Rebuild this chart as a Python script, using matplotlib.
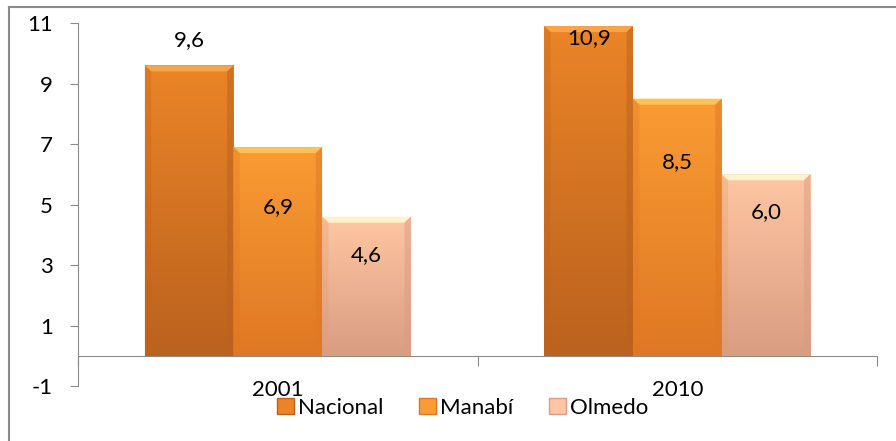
import matplotlib
matplotlib.use("Agg")
import matplotlib.pyplot as plt
import numpy as np
from matplotlib.colors import LinearSegmentedColormap
from matplotlib.patches import Polygon, Patch
from matplotlib.lines import Line2D

# ── data ─────────────────────────────────────────────────────────────────────
years = ["2001", "2010"]
series = ["Nacional", "Manabí", "Olmedo"]
nacional = [9.6, 10.9]
manabi = [6.9, 8.5]
olmedo = [4.6, 6.0]
values = [nacional, manabi, olmedo]

# ── style ────────────────────────────────────────────────────────────────────
plt.rcParams["font.family"] = ["Lato", "DejaVu Sans"]
FS = 16
GRAY = "#8a8a8a"
# (top colour, bottom colour, bevel colour)
COLORS = [
    ("#EA8427", "#BB621E", "#F6A54A"),
    ("#FA9B33", "#DE7824", "#FDC25A"),
    ("#FEC6A2", "#D99D82", "#FFF2CC"),
]
# label offsets (data units) relative to bar top, per series / per year
LABEL_DY = [[0.85, -0.4], [-2.0, -2.1], [-1.26, -1.24]]
BAR_W = 0.222

fig = plt.figure(figsize=(8.96, 4.41), dpi=100)
fig.patch.set_facecolor("white")
ax = fig.add_axes([0.0871, 0.1247, 0.8917, 0.8231])
ax.set_xlim(-0.5, 1.5)
ax.set_ylim(-1, 11)

x = np.arange(len(years))
for i, (vals, (ctop, cbot, cbev)) in enumerate(zip(values, COLORS)):
    bars = ax.bar(x + (i - 1) * BAR_W, vals, BAR_W, color=cbot, zorder=2,
                  linewidth=0)
    cmap = LinearSegmentedColormap.from_list(f"g{i}", [cbot, ctop])
    for b in bars:
        x0, w, h = b.get_x(), b.get_width(), b.get_height()
        grad = np.linspace(1, 0, 100).reshape(-1, 1)
        im = ax.imshow(grad, cmap=cmap, extent=(x0, x0 + w, 0, h),
                       aspect="auto", zorder=3, vmin=0, vmax=1)
        im.set_clip_path(b)
        # bevel on top
        dy, dx = 0.2, 0.016
        ax.add_patch(Polygon([(x0, h), (x0 + w, h), (x0 + w - dx, h - dy),
                              (x0 + dx, h - dy)], closed=True,
                             facecolor=cbev, edgecolor="none", zorder=4))
        # slightly darker sides and bottom
        ax.add_patch(Polygon([(x0, h), (x0 + dx, h - dy), (x0 + dx, dy),
                              (x0, 0)], closed=True, facecolor=cbot,
                             alpha=0.3, edgecolor="none", zorder=4))
        ax.add_patch(Polygon([(x0 + w, h), (x0 + w - dx, h - dy),
                              (x0 + w - dx, dy), (x0 + w, 0)], closed=True,
                             facecolor=cbot, alpha=0.5, edgecolor="none",
                             zorder=4))
        ax.add_patch(Polygon([(x0, 0), (x0 + dx, dy), (x0 + w - dx, dy),
                              (x0 + w, 0)], closed=True, facecolor=cbot,
                             alpha=0.4, edgecolor="none", zorder=4))
    for j, b in enumerate(bars):
        val = vals[j]
        ax.text(b.get_x() + b.get_width() / 2, val + LABEL_DY[i][j],
                f"{val:.1f}".replace(".", ","), ha="center", va="center",
                fontsize=FS, color="black", zorder=6)

# ── axes ─────────────────────────────────────────────────────────────────────
for s in ["top", "right"]:
    ax.spines[s].set_visible(False)
ax.spines["bottom"].set_position(("data", 0))
ax.spines["bottom"].set_color(GRAY)
ax.spines["left"].set_color(GRAY)
ax.set_yticks(np.arange(-1, 12, 2))
ax.set_yticklabels([str(v) for v in range(-1, 12, 2)], fontsize=FS)
ax.tick_params(axis="y", length=6, color=GRAY, pad=12)
ax.set_xticks([-0.5, 0.5, 1.5])
ax.set_xticklabels([])
ax.tick_params(axis="x", length=7, color=GRAY, direction="out")
for i, yr in enumerate(years):
    ax.text(i, -1.12, yr, ha="center", va="center", fontsize=FS)

# ── legend ───────────────────────────────────────────────────────────────────
handles = [Patch(facecolor=c[0], edgecolor=c[1]) for c in COLORS]
fig.legend(handles, series, loc="center", bbox_to_anchor=(463 / 896, 0.075),
           ncol=3, frameon=False, fontsize=FS, handlelength=0.75,
           handleheight=0.75, handletextpad=0.2, columnspacing=1.6)

# ── outer frame ──────────────────────────────────────────────────────────────
fig.add_artist(Line2D([9 / 896, 9 / 896], [0, 1 - 7 / 441],
                      transform=fig.transFigure, color=GRAY, lw=1.5))
fig.add_artist(Line2D([9 / 896, 1], [1 - 7 / 441, 1 - 7 / 441],
                      transform=fig.transFigure, color=GRAY, lw=1.5))

fig.savefig("out.png", dpi=100, facecolor="white")
